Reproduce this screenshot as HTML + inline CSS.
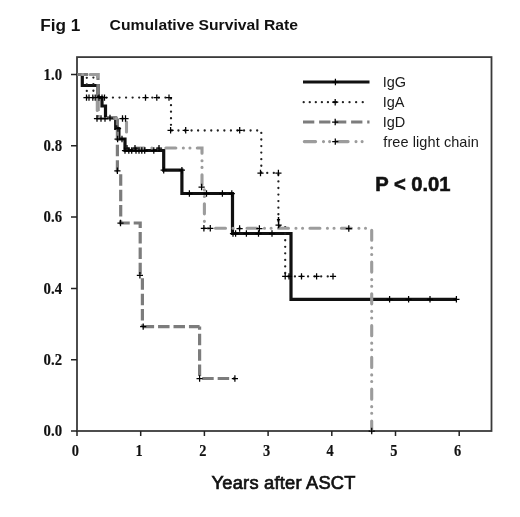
<!DOCTYPE html>
<html lang="en"><head><meta charset="utf-8"><title>Fig 1 Cumulative Survival Rate</title>
<style>
html,body{margin:0;padding:0;background:#fff;}
body{width:520px;height:517px;overflow:hidden;}
svg{display:block;will-change:transform;}
text{font-family:"Liberation Sans",sans-serif;fill:#111;}
.tk{font-family:"Liberation Serif",serif;font-weight:bold;font-size:17px;stroke:#111;stroke-width:0.15px;}
.lg{font-size:14.5px;fill:#1a1a1a;}
.pv{font-weight:bold;font-size:19.5px;stroke:#111;stroke-width:0.55px;}
.t1{font-weight:bold;font-size:17.2px;}
.t2{font-weight:bold;font-size:15.2px;}
.xl{font-weight:normal;font-size:18.3px;stroke:#111;stroke-width:0.7px;}
</style></head>
<body>
<svg width="520" height="517" viewBox="0 0 520 517">
<rect width="520" height="517" fill="#fff"/>
<rect x="77" y="57.1" width="414.5" height="373.9" fill="none" stroke="#3a3a3a" stroke-width="1.8"/>
<path d="M71,431.0H77M71,359.7H77M71,288.4H77M71,217.1H77M71,145.8H77M71,74.5H77M77.0,431V436M140.7,431V436M204.4,431V436M268.1,431V436M331.8,431V436M395.5,431V436M459.2,431V436" stroke="#222" stroke-width="1.5" fill="none"/>
<text class="tk" x="43.6" y="436.2" textLength="18.5" lengthAdjust="spacingAndGlyphs">0.0</text>
<text class="tk" x="43.6" y="364.9" textLength="18.5" lengthAdjust="spacingAndGlyphs">0.2</text>
<text class="tk" x="43.6" y="293.6" textLength="18.5" lengthAdjust="spacingAndGlyphs">0.4</text>
<text class="tk" x="43.6" y="222.3" textLength="18.5" lengthAdjust="spacingAndGlyphs">0.6</text>
<text class="tk" x="43.6" y="151.0" textLength="18.5" lengthAdjust="spacingAndGlyphs">0.8</text>
<text class="tk" x="43.6" y="79.7" textLength="18.5" lengthAdjust="spacingAndGlyphs">1.0</text>
<text class="tk" x="71.8" y="455.8" textLength="7.2" lengthAdjust="spacingAndGlyphs">0</text>
<text class="tk" x="135.5" y="455.8" textLength="7.2" lengthAdjust="spacingAndGlyphs">1</text>
<text class="tk" x="199.2" y="455.8" textLength="7.2" lengthAdjust="spacingAndGlyphs">2</text>
<text class="tk" x="262.9" y="455.8" textLength="7.2" lengthAdjust="spacingAndGlyphs">3</text>
<text class="tk" x="326.6" y="455.8" textLength="7.2" lengthAdjust="spacingAndGlyphs">4</text>
<text class="tk" x="390.3" y="455.8" textLength="7.2" lengthAdjust="spacingAndGlyphs">5</text>
<text class="tk" x="454.0" y="455.8" textLength="7.2" lengthAdjust="spacingAndGlyphs">6</text>
<path d="M77,74.5H82.3V85.5H98V97.5H102V106H105.5V118H115.7V128.5H118.9V139H125V150.5H163.7V170.2H181.9V193.5H232.5V233.5H291V299.3H456.4" stroke="#111" stroke-width="3.2" fill="none" stroke-linejoin="miter"/>
<path d="M77,74.5H86.8V97.6H171V130.5H261.3V172.9H278.4V226H285.2V276.4H333" stroke="#222" stroke-width="2.3" fill="none" stroke-linecap="round" stroke-dasharray="0.01 6.55"/>
<path d="M93.4,77.6V92" stroke="#222" stroke-width="2.3" fill="none" stroke-linecap="round" stroke-dasharray="0.01 6.55"/>
<path d="M77,74.5H98V118.5H117.4" stroke="#7c7c7c" stroke-width="3.2" fill="none" stroke-dasharray="11.5 3.95" stroke-dashoffset="0.4"/>
<path d="M117.4,118.5V171H120.7" stroke="#7c7c7c" stroke-width="3.2" fill="none" stroke-dasharray="11.5 3.95" stroke-dashoffset="4.7"/>
<path d="M120.7,171V223H140.2V275" stroke="#7c7c7c" stroke-width="3.2" fill="none" stroke-dasharray="11.5 3.95" stroke-dashoffset="12.25"/>
<path d="M142.4,275V326.6" stroke="#7c7c7c" stroke-width="3.2" fill="none" stroke-dasharray="11.5 3.95" stroke-dashoffset="12.25"/>
<path d="M142.4,326.6H199.6" stroke="#7c7c7c" stroke-width="3.2" fill="none" stroke-dasharray="11.5 3.95" stroke-dashoffset="15.25"/>
<path d="M199.6,326.6V378.5" stroke="#7c7c7c" stroke-width="3.2" fill="none" stroke-dasharray="11.5 3.95" stroke-dashoffset="8.35"/>
<path d="M199.6,378.5H234.9" stroke="#7c7c7c" stroke-width="3.2" fill="none" stroke-dasharray="11.5 3.95" stroke-dashoffset="12.85"/>
<path d="M77,74.5H97.5V79" stroke="#9c9c9c" stroke-width="3.1" fill="none" stroke-linecap="round" stroke-dasharray="10 7.5 0.01 6.6 0.01 7.35" stroke-dashoffset="18.4"/>
<path d="M97.3,98.5V110.5" stroke="#9c9c9c" stroke-width="3.1" fill="none" stroke-linecap="round" stroke-dasharray="40 40" stroke-dashoffset="0"/>
<path d="M97.5,118.5H126.5V136" stroke="#9c9c9c" stroke-width="3.1" fill="none" stroke-linecap="round" stroke-dasharray="10 7.5 0.01 6.6 0.01 7.35" stroke-dashoffset="30.4"/>
<path d="M126.5,148H202V187H204.4V228.5" stroke="#9c9c9c" stroke-width="3.1" fill="none" stroke-linecap="round" stroke-dasharray="10 7.5 0.01 6.6 0.01 7.35" stroke-dashoffset="23.6"/>
<path d="M204.4,228.3H371.7" stroke="#9c9c9c" stroke-width="3.1" fill="none" stroke-linecap="round" stroke-dasharray="10 7.5 0.01 6.6 0.01 7.35" stroke-dashoffset="20.35"/>
<path d="M371.7,228.5V431" stroke="#9c9c9c" stroke-width="3.1" fill="none" stroke-linecap="round" stroke-dasharray="10 7.5 0.01 6.6 0.01 7.65" stroke-dashoffset="29.95"/>
<path d="M83.4,97.6H89.6M86.5,94.4V100.8M85.9,97.6H92.1M89.0,94.4V100.8M89.7,97.6H95.9M92.8,94.4V100.8M92.1,97.6H98.3M95.2,94.4V100.8M95.9,97.6H102.1M99.0,94.4V100.8M98.9,97.6H105.1M102.0,94.4V100.8M101.4,97.6H107.6M104.5,94.4V100.8M142.4,97.6H148.6M145.5,94.4V100.8M153.7,97.6H159.9M156.8,94.4V100.8M165.9,97.6H172.1M169.0,94.4V100.8M167.5,130.3H173.7M170.6,127.1V133.5M182.6,130.3H188.8M185.7,127.1V133.5M236.6,130.3H242.8M239.7,127.1V133.5M257.4,173.0H263.6M260.5,169.8V176.2M275.3,173.0H281.5M278.4,169.8V176.2M275.5,225.0H281.7M278.6,221.8V228.2M282.1,276.4H288.3M285.2,273.2V279.6M285.9,276.4H292.1M289.0,273.2V279.6M298.4,276.4H304.6M301.5,273.2V279.6M313.5,276.4H319.7M316.6,273.2V279.6M329.9,276.4H336.1M333.0,273.2V279.6M93.9,118.5H100.1M97.0,115.3V121.7M97.9,118.5H104.1M101.0,115.3V121.7M101.9,118.5H108.1M105.0,115.3V121.7M106.9,118.0H113.1M110.0,114.8V121.2M119.4,118.5H125.6M122.5,115.3V121.7M122.4,118.5H128.6M125.5,115.3V121.7M114.5,139.0H120.7M117.6,135.8V142.2M118.9,139.0H125.1M122.0,135.8V142.2M114.9,128.5H121.1M118.0,125.3V131.7M114.3,170.8H120.5M117.4,167.6V174.0M117.4,223.0H123.6M120.5,219.8V226.2M136.8,275.3H143.0M139.9,272.1V278.5M140.1,326.6H146.3M143.2,323.4V329.8M196.5,378.5H202.7M199.6,375.3V381.7M231.8,378.5H238.0M234.9,375.3V381.7M121.9,150.5H128.1M125.0,147.3V153.7M125.7,150.5H131.9M128.8,147.3V153.7M128.6,150.5H134.8M131.7,147.3V153.7M132.9,150.5H139.1M136.0,147.3V153.7M135.9,150.5H142.1M139.0,147.3V153.7M138.7,150.5H144.9M141.8,147.3V153.7M141.6,150.5H147.8M144.7,147.3V153.7M150.7,150.5H156.9M153.8,147.3V153.7M155.9,148.2H162.1M159.0,145.0V151.4M123.9,148.2H130.1M127.0,145.0V151.4M131.9,148.2H138.1M135.0,145.0V151.4M160.6,170.2H166.8M163.7,167.0V173.4M178.8,170.2H185.0M181.9,167.0V173.4M186.3,193.5H192.5M189.4,190.3V196.7M203.4,193.5H209.6M206.5,190.3V196.7M219.3,193.5H225.5M222.4,190.3V196.7M228.7,193.5H234.9M231.8,190.3V196.7M198.5,187.0H204.7M201.6,183.8V190.2M200.8,228.3H207.0M203.9,225.1V231.5M207.2,228.3H213.4M210.3,225.1V231.5M236.5,228.5H242.7M239.6,225.3V231.7M256.3,228.5H262.5M259.4,225.3V231.7M345.7,228.5H351.9M348.8,225.3V231.7M229.9,233.5H236.1M233.0,230.3V236.7M232.5,233.5H238.7M235.6,230.3V236.7M243.3,233.5H249.5M246.4,230.3V236.7M255.4,233.5H261.6M258.5,230.3V236.7M268.9,233.5H275.1M272.0,230.3V236.7M386.5,299.3H392.7M389.6,296.1V302.5M405.5,299.3H411.7M408.6,296.1V302.5M426.9,299.3H433.1M430.0,296.1V302.5M453.3,299.3H459.5M456.4,296.1V302.5M368.6,431.0H374.8M371.7,427.8V434.2" stroke="#000" stroke-width="1.25" fill="none"/>
<path d="M276.9,219.6H280.1M278.5,217.0V222.2" stroke="#000" stroke-width="1.25" fill="none"/>
<path d="M278.5,217V228" stroke="#000" stroke-width="1.25"/>
<path d="M303,82H369.5" stroke="#111" stroke-width="3" fill="none"/>
<path d="M303.7,102.2H334.5" stroke="#222" stroke-width="2.3" fill="none" stroke-linecap="round" stroke-dasharray="0.01 6.05"/>
<path d="M336.3,102.2H363.2" stroke="#222" stroke-width="2.3" fill="none" stroke-linecap="round" stroke-dasharray="0.01 6.6"/>
<path d="M303,122H335M335,122H369.5" stroke="#7c7c7c" stroke-width="3" fill="none" stroke-dasharray="11.3 4.8"/>
<path d="M304.3,141.6H331M336.8,141.6H364" stroke="#9c9c9c" stroke-width="3.1" fill="none" stroke-linecap="round" stroke-dasharray="11.3 7.9 0.01 6.1 0.01 40"/>
<path d="M332.3,82.0H338.5M335.4,78.8V85.2M332.1,102.2H338.3M335.2,99.0V105.4M332.1,122.0H338.3M335.2,118.8V125.2M332.2,141.6H338.4M335.3,138.4V144.8" stroke="#000" stroke-width="1.25" fill="none"/>
<text class="lg" x="382.7" y="87">IgG</text>
<text class="lg" x="382.7" y="107">IgA</text>
<text class="lg" x="382.7" y="127">IgD</text>
<text class="lg" x="383.3" y="146.7" textLength="95.6" lengthAdjust="spacing">free light chain</text>
<text class="pv" x="375.2" y="190.8" textLength="75.4" lengthAdjust="spacingAndGlyphs">P &lt; 0.01</text>
<text class="t1" x="40.2" y="31">Fig 1</text>
<text class="t2" x="109.6" y="30.2" textLength="188.4" lengthAdjust="spacingAndGlyphs">Cumulative Survival Rate</text>
<text class="xl" x="211.6" y="489" textLength="143.8" lengthAdjust="spacing">Years after ASCT</text>
</svg>
</body></html>
